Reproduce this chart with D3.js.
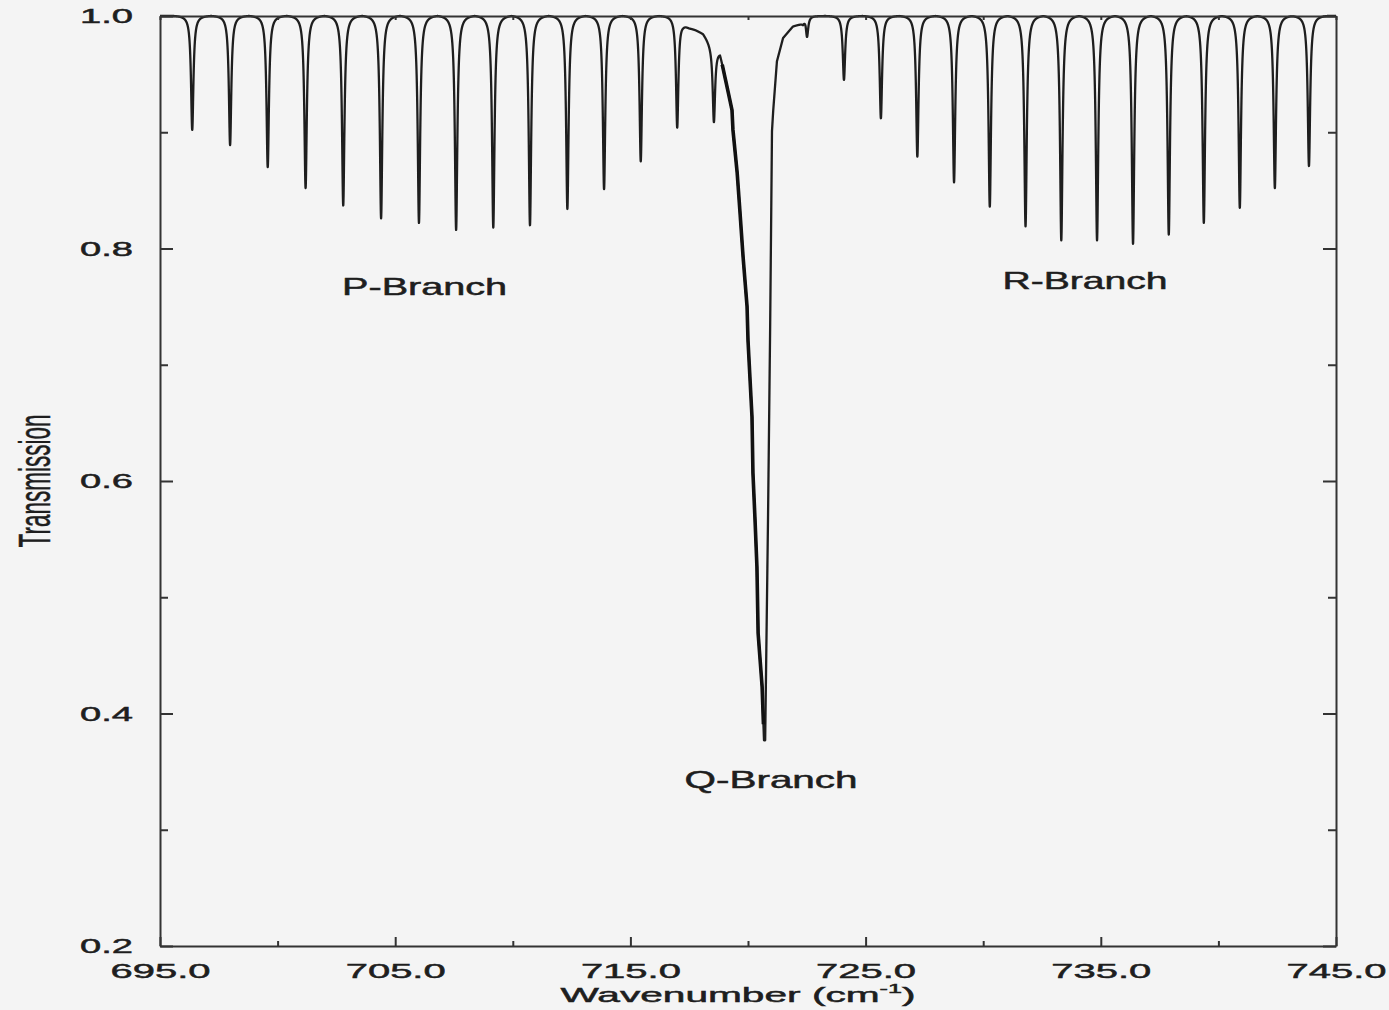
<!DOCTYPE html>
<html>
<head>
<meta charset="utf-8">
<script src="https://cdn.jsdelivr.net/npm/d3@7"></script>
<style>
  html, body { margin: 0; padding: 0; background: #f4f4f4; }
  svg { display: block; }
</style>
</head>
<body>
<script>
// Width and height
const w = 1389;
const h = 1010;
const margin = { top: 16, right: 53, bottom: 64, left: 160 };

// P-branch lines: centre (cm-1) and minimum transmission
const pLineWn = [696.37, 697.98, 699.58, 701.19, 702.79, 704.40, 706.01, 707.59,
  709.17, 710.73, 712.32, 713.88, 715.44, 716.99, 718.55];
const pLineT = [0.902, 0.889, 0.870, 0.852, 0.837, 0.826, 0.822, 0.816,
  0.818, 0.820, 0.834, 0.851, 0.875, 0.904, 0.933];

// R-branch lines (first one is the small dip just past the Q-branch)
const rLineWn = [722.51, 724.08, 725.65, 727.20, 728.76, 730.28, 731.80, 733.32,
  734.84, 736.37, 737.89, 739.38, 740.91, 742.40, 743.85];
const rLineT = [0.982, 0.945, 0.912, 0.879, 0.857, 0.836, 0.819, 0.807,
  0.807, 0.804, 0.812, 0.822, 0.835, 0.852, 0.871];

// Q-branch envelope, traced point by point
const qWn = [717.00, 717.24, 717.50, 718.09, 718.39, 718.81, 719.02, 719.32, 719.36,
  719.54, 719.66, 719.79, 719.96, 720.00, 720.17, 720.21, 720.30, 720.38, 720.43,
  720.60, 720.68, 720.73, 720.85, 720.94, 721.02, 721.07, 721.23, 721.49, 721.91,
  722.34, 722.45];
const qT = [1.000, 0.994, 0.990, 0.985, 0.977, 0.969, 0.948, 0.919, 0.902,
  0.865, 0.831, 0.793, 0.750, 0.721, 0.655, 0.607, 0.566, 0.526, 0.469,
  0.423, 0.377, 0.377, 0.566, 0.729, 0.901, 0.918, 0.961, 0.981, 0.991,
  0.994, 1.000];

// Axis ticks
const xMajor = [695, 705, 715, 725, 735, 745];
const xMinor = [700, 710, 720, 730, 740];
const yMajor = [0.2, 0.4, 0.6, 0.8, 1.0];
const yMinor = [0.3, 0.5, 0.7, 0.9];

// Branch labels
const branchNames = ['P-Branch', 'Q-Branch', 'R-Branch'];
const branchWn = [706.25, 720.98, 734.33];
const branchT = [0.760, 0.336, 0.765];

const font = "'Liberation Sans', Arial, Helvetica, sans-serif";
const ink = '#1e1e1e';

// Scales
const x = d3.scaleLinear().domain([695, 745]).range([margin.left, w - margin.right]);
const y = d3.scaleLinear().domain([0.2, 1.0]).range([h - margin.bottom, margin.top]);

// Lorentzian half width and wing cut-off (cm-1)
const gamma = 0.06;
const cutoff = 0.78;
const wingFloor = gamma * gamma / (cutoff * cutoff + gamma * gamma);
const lines = pLineWn.map((c, i) => ({ c, t: pLineT[i] }))
  .concat(rLineWn.map((c, i) => ({ c, t: rLineT[i] })))
  .map(l => ({ c: l.c, k: -Math.log(l.t) / (1 - wingFloor) }));

// Q-branch envelope through a piecewise scale, 1 outside its span
const qEnv = d3.scaleLinear().domain(qWn).range(qT).clamp(true);

const transmission = v => {
  let a = 0;
  lines.forEach(l => {
    const d = Math.abs(v - l.c);
    if (d < cutoff) a += l.k * (gamma * gamma / (d * d + gamma * gamma) - wingFloor);
  });
  return Math.exp(-a) * qEnv(v);
};

// Sample grid plus the exact line centres and envelope points
const grid = d3.range(695, 745.0001, 0.004)
  .concat(pLineWn, rLineWn, qWn)
  .sort(d3.ascending);
const spectrum = grid.map(v => [v, transmission(v)]);

// Create SVG element
const svg = d3.select('body')
  .append('svg')
  .attr('width', w)
  .attr('height', h)
  .style('background', '#f4f4f4');

// Spectrum
const line = d3.line()
  .x(d => x(d[0]))
  .y(d => y(d[1]));

svg.append('path')
  .datum(spectrum)
  .attr('d', line)
  .attr('fill', 'none')
  .attr('stroke', ink)
  .attr('stroke-width', 2.3)
  .attr('stroke-linejoin', 'round');

// Dense left side of the Q-branch prints heavier
svg.append('path')
  .datum(spectrum.filter(d => d[0] > 718.9 && d[0] < 720.66))
  .attr('d', line)
  .attr('fill', 'none')
  .attr('stroke', '#111')
  .attr('stroke-width', 3.6);

// Axes (ticks point inward)
const axisStyle = g => {
  g.attr('color', '#333').attr('font-family', font);
  g.selectAll('path, line').attr('stroke-width', 2);
};
const textStyle = sel => sel
  .attr('fill', ink)
  .attr('stroke', ink)
  .attr('stroke-width', 0.5);

// Bottom
svg.append('g')
  .attr('transform', `translate(0,${y(0.2)})`)
  .call(d3.axisBottom(x).tickValues(xMajor).tickSize(-9).tickSizeOuter(0)
    .tickPadding(17).tickFormat(d3.format('.1f')))
  .call(axisStyle)
  .call(g => g.selectAll('text')
    .attr('font-size', 21)
    .attr('textLength', 100)
    .attr('lengthAdjust', 'spacingAndGlyphs')
    .call(textStyle));
svg.append('g')
  .attr('transform', `translate(0,${y(0.2)})`)
  .call(d3.axisBottom(x).tickValues(xMinor).tickSize(-5).tickSizeOuter(0).tickFormat(''))
  .call(axisStyle)
  .call(g => g.select('.domain').remove());

// Top
svg.append('g')
  .attr('transform', `translate(0,${y(1.0)})`)
  .call(d3.axisTop(x).tickValues(xMajor.concat(xMinor)).tickSize(-4).tickSizeOuter(0).tickFormat(''))
  .call(axisStyle);

// Left
svg.append('g')
  .attr('transform', `translate(${x(695)},0)`)
  .call(d3.axisLeft(y).tickValues(yMajor).tickSize(-13).tickSizeOuter(0)
    .tickPadding(27).tickFormat(d3.format('.1f')))
  .call(axisStyle)
  .call(g => g.selectAll('text')
    .attr('font-size', 21)
    .attr('textLength', 53)
    .attr('lengthAdjust', 'spacingAndGlyphs')
    .call(textStyle));
svg.append('g')
  .attr('transform', `translate(${x(695)},0)`)
  .call(d3.axisLeft(y).tickValues(yMinor).tickSize(-8).tickSizeOuter(0).tickFormat(''))
  .call(axisStyle)
  .call(g => g.select('.domain').remove());

// Right
svg.append('g')
  .attr('transform', `translate(${x(745)},0)`)
  .call(d3.axisRight(y).tickValues(yMajor).tickSize(-13).tickSizeOuter(0).tickFormat(''))
  .call(axisStyle);
svg.append('g')
  .attr('transform', `translate(${x(745)},0)`)
  .call(d3.axisRight(y).tickValues(yMinor).tickSize(-8).tickSizeOuter(0).tickFormat(''))
  .call(axisStyle)
  .call(g => g.select('.domain').remove());

// Axis titles
const xTitle = svg.append('text')
  .attr('x', 738)
  .attr('y', 1002)
  .attr('text-anchor', 'middle')
  .attr('font-family', font)
  .attr('font-size', 21)
  .attr('textLength', 355)
  .attr('lengthAdjust', 'spacingAndGlyphs')
  .call(textStyle);
xTitle.append('tspan').text('Wavenumber (cm');
xTitle.append('tspan').attr('font-size', 13).attr('dy', -9).text('-1');
xTitle.append('tspan').attr('dy', 9).text(')');

svg.append('text')
  .attr('transform', `translate(50,${y(0.6)}) rotate(-90)`)
  .attr('text-anchor', 'middle')
  .attr('font-family', font)
  .attr('font-size', 44)
  .attr('textLength', 133)
  .attr('lengthAdjust', 'spacingAndGlyphs')
  .call(textStyle)
  .text('Transmission');

// Branch labels
svg.selectAll('.branch')
  .data(branchNames)
  .enter()
  .append('text')
  .attr('class', 'branch')
  .attr('x', (d, i) => x(branchWn[i]))
  .attr('y', (d, i) => y(branchT[i]))
  .attr('text-anchor', 'middle')
  .attr('font-family', font)
  .attr('font-size', 24)
  .attr('textLength', (d, i) => (i === 1 ? 173 : 165))
  .attr('lengthAdjust', 'spacingAndGlyphs')
  .call(textStyle)
  .text(d => d);
</script>
</body>
</html>
